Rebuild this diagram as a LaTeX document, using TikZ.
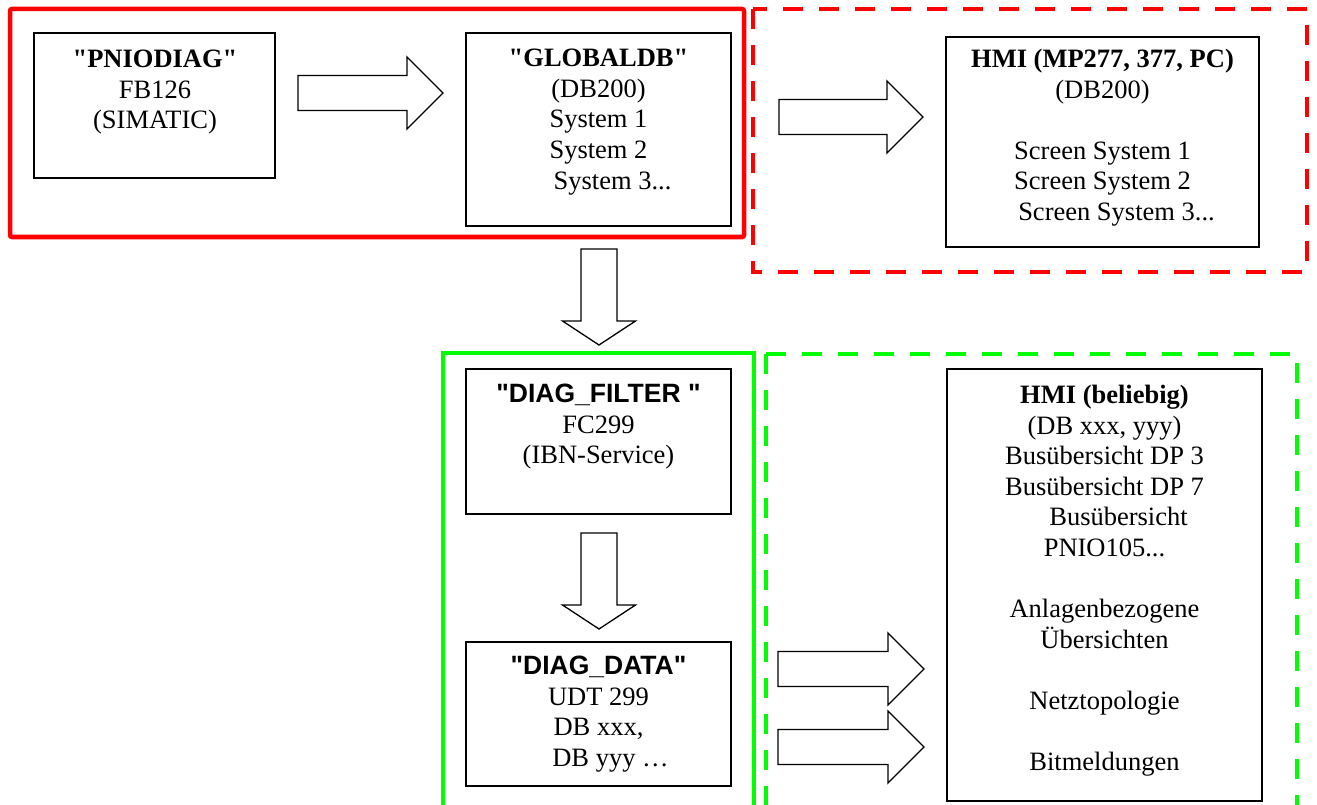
\documentclass[tikz,border=0pt]{standalone}
\usepackage{fontspec}
\setmainfont{Liberation Serif}[Ligatures=TeXOff]
\newfontfamily\arialfam{Liberation Sans}[Ligatures=TeXOff]
\usetikzlibrary{fit}
\definecolor{fred}{RGB}{255,0,0}
\definecolor{fgreen}{RGB}{0,255,0}
\tikzset{
  box/.style={draw=black, line width=1.3pt, inner sep=0pt, outer sep=0pt},
  txt/.style={align=center, inner sep=0pt, anchor=north, font=\fontsize{26.5}{30.6}\selectfont},
  frame/.style={line width=4.5pt},
  dframe/.style={line width=4.5pt, dash pattern=on 20pt off 16pt},
  blockarrow/.style={draw=black, fill=white, line width=1.3pt, line join=miter}
}
\newcommand\myHarrow[3]{\draw[blockarrow] (#1,#3-17.5) -- (#2-36,#3-17.5) -- (#2-36,#3-36) -- (#2,#3) -- (#2-36,#3+36) -- (#2-36,#3+17.5) -- (#1,#3+17.5) -- cycle;}
\newcommand\myVarrow[3]{\draw[blockarrow] (#1-18,#2) -- (#1+18,#2) -- (#1+18,#3-24) -- (#1+36.5,#3-24) -- (#1,#3) -- (#1-36.5,#3-24) -- (#1-18,#3-24) -- cycle;}
\begin{document}
\begin{tikzpicture}[x=1pt,y=-1pt]
\useasboundingbox (0,0) rectangle (1317,805);
% frames
\draw[frame, draw=fred, rounded corners=2pt] (10,9) rectangle (744,237);
\draw[dframe, draw=fred] (753,9) rectangle (1307,272);
\draw[frame, draw=fgreen] (443,810) -- (443,353) -- (754,353) -- (754,810);
\draw[dframe, draw=fgreen] (766,354) -- (1297,354) -- (1297,810);
\draw[dframe, draw=fgreen] (766,354) -- (766,810);
% boxes
\node[box, fit={(34,33) (275,178)}] (pnio) {};
\node[box, fit={(466,33) (731,226)}] (globaldb) {};
\node[box, fit={(946,37) (1259,247)}] (hmitop) {};
\node[box, fit={(466,369) (731,514)}] (filter) {};
\node[box, fit={(466,642) (731,786)}] (data) {};
\node[box, fit={(947,369) (1262,801)}] (hmibot) {};
% texts
\node[txt] (pniotxt) at (155,50) {\textbf{"PNIODIAG"}\\FB126\\(SIMATIC)};
\node[txt] (globaltxt) at (598.5,49) {\textbf{"GLOBALDB"}\\(DB200)\\System 1\\System 2\\\hspace*{28pt}System 3...};
\node[txt] (hmitoptxt) at (1102.5,49) {\textbf{HMI (MP277, 377, PC)}\\(DB200)\\\mbox{}\\Screen System 1\\Screen System 2\\\hspace*{28pt}Screen System 3...};
\node[txt] (filtertxt) at (598.5,384) {{\arialfam\bfseries "DIAG\_FILTER\ "}\\FC299\\(IBN-Service)};
\node[txt] (datatxt) at (598.5,656) {{\arialfam\bfseries "DIAG\_DATA"}\\UDT 299\\DB xxx,\\\hspace*{24pt}DB yyy …};
\node[txt] (hmibottxt) at (1104.5,385) {\textbf{HMI (beliebig)}\\(DB xxx, yyy)\\Busübersicht DP 3\\Busübersicht DP 7\\\hspace*{28pt}Busübersicht\\PNIO105...\\\mbox{}\\Anlagenbezogene\\Übersichten\\\mbox{}\\Netztopologie\\\mbox{}\\Bitmeldungen};
% block arrows
\myHarrow{298}{443}{93}
\myHarrow{779}{923}{117}
\myHarrow{778}{924}{669}
\myHarrow{778}{924}{747}
\myVarrow{599}{249}{345}
\myVarrow{599}{533}{629}
\end{tikzpicture}
\end{document}
